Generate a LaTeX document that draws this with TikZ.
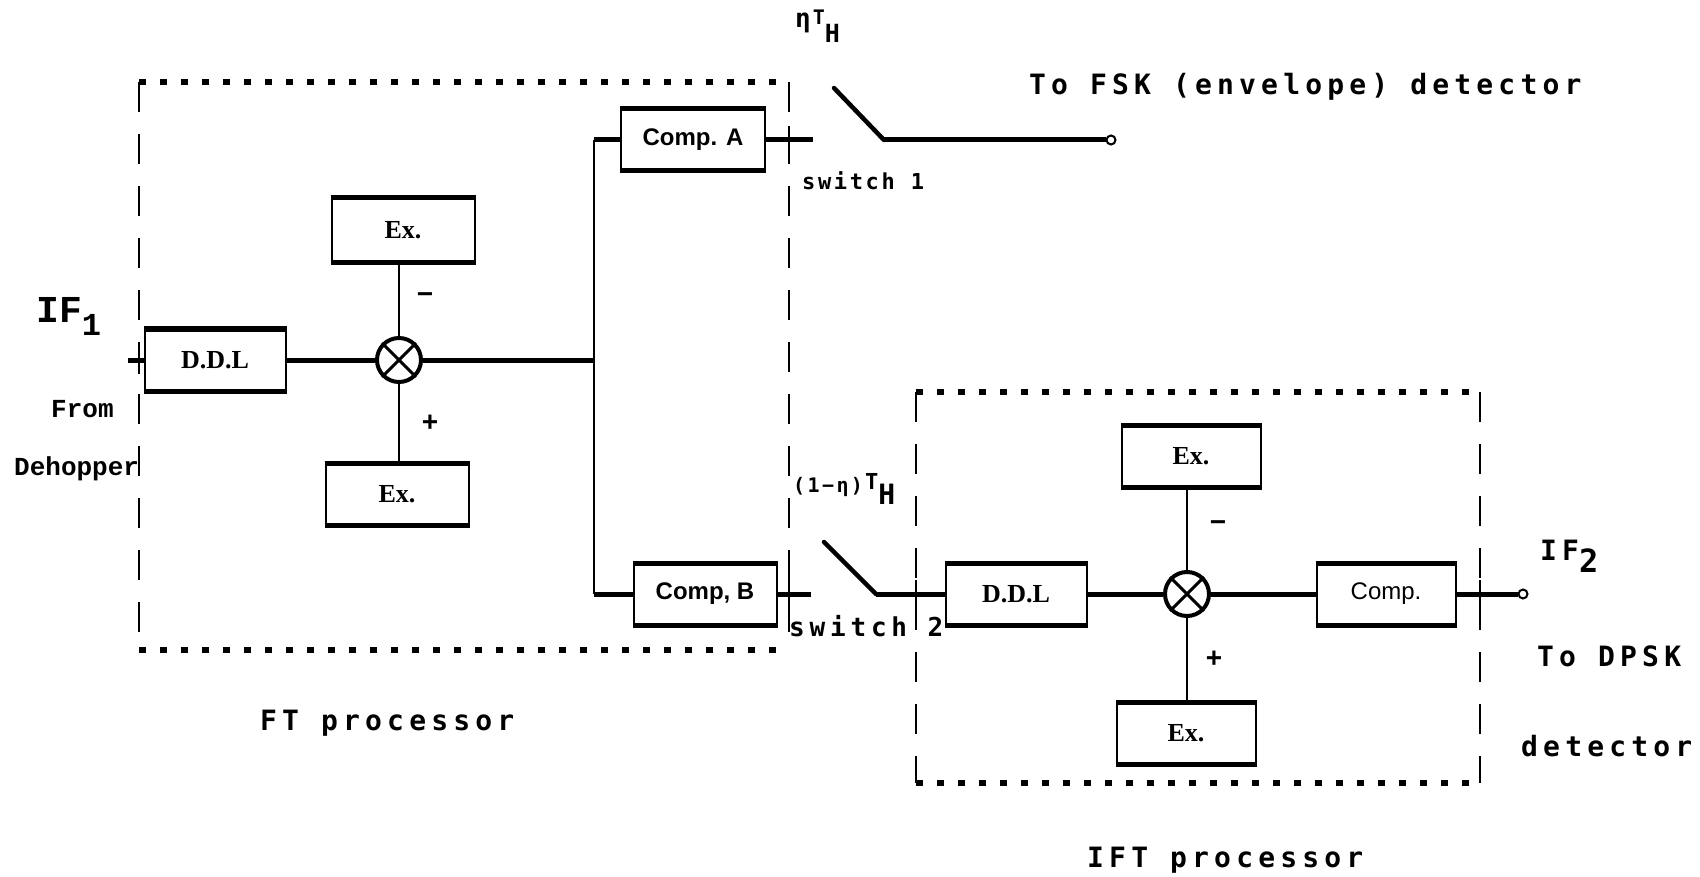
\documentclass[tikz,border=0pt]{standalone}
\usepackage{fontspec}
\setmainfont{Liberation Serif}
\newfontfamily\dotfont[LetterSpace=18.5]{DejaVu Sans Mono}
\newfontfamily\dotsmall[LetterSpace=12]{DejaVu Sans Mono}
\newfontfamily\slabfont{Liberation Mono}
\newfontfamily\boxsans{Liberation Sans}
\begin{document}
\begin{tikzpicture}[x=1pt,y=-1pt,
  blk/.style={draw, line width=2pt, inner sep=0pt, minimum width=141pt, minimum height=60pt,
    font=\bfseries\fontsize{26}{28}\selectfont},
  cblk/.style={blk, font=\boxsans\bfseries\fontsize{24}{26}\selectfont},
  mult/.style={circle, draw, line width=4pt, minimum size=44pt, inner sep=0pt},
  sig/.style={line width=5pt},
  thinl/.style={line width=2pt},
  lever/.style={line width=4.5pt, line cap=round},
  dotb/.style={line width=6pt, dash pattern=on 7pt off 14pt},
  dashb/.style={line width=2.5pt, dash pattern=on 30pt off 22pt},
  tick/.style={line width=2.5pt},
  term/.style={circle, draw, fill=white, line width=2pt, minimum size=9pt, inner sep=0pt},
  dtxt/.style={font=\dotfont\bfseries\fontsize{28}{30}\selectfont, anchor=west, inner sep=0pt},
  stxt/.style={font=\slabfont\bfseries\fontsize{26}{28}\selectfont, anchor=west, inner sep=0pt},
  sgn/.style={font=\boxsans\bfseries\fontsize{28}{28}\selectfont, inner sep=0pt}
]
\useasboundingbox (0,0) rectangle (1700,877);

% ---------- FT processor frame ----------
\draw[dotb] (139,82) -- (789,82);
\draw[dotb] (139,650) -- (789,650);
\draw[dashb] (139,82) -- (139,650);
\draw[dashb] (789,82) -- (789,650);

% ---------- IFT processor frame ----------
\draw[dotb] (916,392) -- (1480,392);
\draw[dotb] (916,783) -- (1480,783);
\draw[dashb] (916,392) -- (916,783);
\draw[dashb] (1480,392) -- (1480,783);

% ---------- FT blocks ----------
\node[blk] (ddl1) at (215,360) {D.D.L};
\node[mult] (m1) at (399,360) {};
\node[blk, minimum width=143pt, minimum height=63pt] (ex1) at (403,230) {Ex.};
\node[blk, minimum width=143pt] (ex2) at (397,494) {Ex.};
\node[cblk, minimum width=144pt] (ca) at (693,140) {Comp. A};
\node[cblk, minimum width=143pt] (cb) at (705,594) {Comp, B};

\coordinate (in1) at (128,360);
\coordinate (bus) at (594,360);
\coordinate (busA) at (594,140);
\coordinate (busB) at (594,594);

\draw[sig] (in1) -- (ddl1.west);
\draw[sig] (ddl1.east) -- (m1.west);
\draw[sig] (m1.east) -- (bus);
\draw[thinl] (m1.north) -- (m1.north |- ex1.south);
\draw[thinl] (m1.south) -- (m1.south |- ex2.north);
\draw[thinl] (busA) -- (busB);
\draw[sig] (busA) -- (ca.west);
\draw[sig] (busB) -- (cb.west);
\draw[line width=3pt] (m1.45) -- (m1.225) (m1.135) -- (m1.315);

% ---------- switch 1 ----------
\coordinate (ca2) at (813,140);
\coordinate (s1a) at (834,88);
\coordinate (s1b) at (884,140);
\node[term] (o1) at (1111,140) {};
\draw[sig] (ca.east) -- (ca2);
\draw[lever] (s1a) -- (s1b);
\draw[sig] (s1b) -- (o1.west);

% ---------- switch 2 ----------
\coordinate (cb2) at (811,594);
\coordinate (s2a) at (824,542);
\coordinate (s2b) at (876,594);
\draw[sig] (cb.east) -- (cb2);
\draw[lever] (s2a) -- (s2b);

% ---------- IFT blocks ----------
\node[blk] (ddl2) at (1016,594) {D.D.L};
\node[mult] (m2) at (1187,594) {};
\node[blk, minimum width=139pt] (ex3) at (1191,456) {Ex.};
\node[blk, minimum width=139pt] (ex4) at (1186,733) {Ex.};
\node[cblk, minimum width=139pt, font=\boxsans\fontsize{24}{26}\selectfont] (cmp) at (1386,594) {Comp.};
\node[term] (o2) at (1523,594) {};

\draw[sig] (s2b) -- (ddl2.west);
\draw[sig] (ddl2.east) -- (m2.west);
\draw[sig] (m2.east) -- (cmp.west);
\draw[sig] (cmp.east) -- (o2.west);
\draw[thinl] (m2.north) -- (m2.north |- ex3.south);
\draw[thinl] (m2.south) -- (m2.south |- ex4.north);
\draw[line width=3pt] (m2.45) -- (m2.225) (m2.135) -- (m2.315);

% thick top/bottom edges of the blocks
\foreach \n in {ddl1,ex1,ex2,ca,cb,ddl2,ex3,ex4,cmp}
  \draw[line width=5pt] (\n.north west) -- (\n.north east) (\n.south west) -- (\n.south east);

% frame ticks where lines cross
\draw[tick] (139,346) -- (139,374);
\draw[tick] (789,126) -- (789,154);
\draw[tick] (789,580) -- (789,608);
\draw[tick] (916,580) -- (916,608);
\draw[tick] (1480,580) -- (1480,608);

% ---------- signs ----------
\node[sgn] (mi1) at (425,298) {−};
\node[sgn] (pl1) at (430,423) {+};
\node[sgn] (mi2) at (1218,526) {−};
\node[sgn] (pl2) at (1214,659) {+};

% ---------- labels ----------
\node[anchor=west, inner sep=0pt, font=\slabfont\bfseries\fontsize{38}{40}\selectfont] (if1) at (36,316)
  {IF\raisebox{-13pt}{\fontsize{32}{32}\selectfont 1}};
\node[stxt] (from) at (51,409) {From};
\node[stxt] (deh) at (14,469) {Dehopper};
\node[dtxt] (ftp) at (260,723) {FT processor};
\node[dtxt] (iftp) at (1087,860) {IFT processor};
\node[dtxt] (fsk) at (1029,87) {To FSK (envelope) detector};
\node[dtxt] (dpsk) at (1537,656) {To DPSK};
\node[dtxt] (det) at (1521,746) {detector};
\node[dtxt] (if2) at (1540,556)
  {IF\raisebox{-12pt}{\fontsize{32}{32}\selectfont 2}};
\node[dtxt, font=\dotsmall\bfseries\fontsize{22}{24}\selectfont] (sw1) at (802,181) {switch 1};
\node[dtxt, font=\dotfont\bfseries\fontsize{26}{28}\selectfont] (sw2) at (789,626) {switch 2};
\node[anchor=base west, inner sep=0pt, font=\dotsmall\bfseries\fontsize{26}{26}\selectfont] (eta1) at (795,28)
  {η\hspace{2pt}\raisebox{3pt}{\fontsize{20}{20}\selectfont T}\raisebox{-15pt}{\fontsize{25}{25}\selectfont H}};
\node[anchor=base west, inner sep=0pt, font=\dotsmall\bfseries\fontsize{20}{20}\selectfont] (eta2) at (793,492)
  {(1−η)\hspace{2pt}\raisebox{3pt}{\fontsize{22}{22}\selectfont T}\raisebox{-12pt}{\fontsize{28}{28}\selectfont H}};
\end{tikzpicture}
\end{document}
